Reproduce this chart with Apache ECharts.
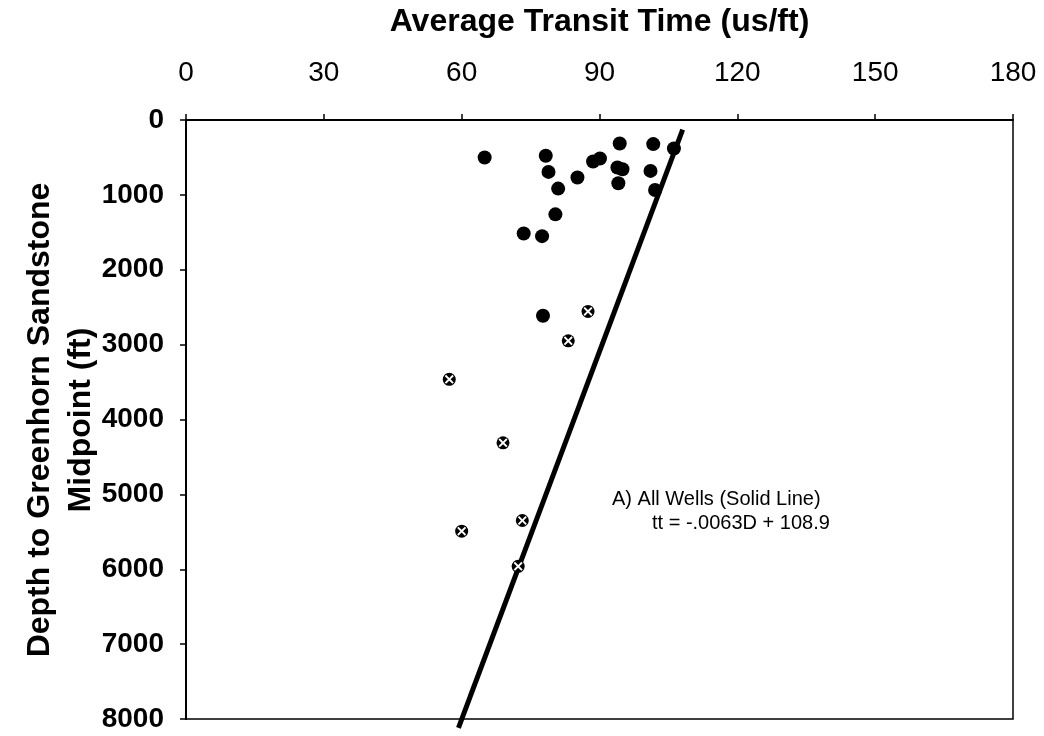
<!DOCTYPE html>
<html>
<head>
<meta charset="utf-8">
<title>Average Transit Time vs Depth</title>
<script src="https://cdn.jsdelivr.net/npm/echarts@6/dist/echarts.min.js"></script>
<style>
  html, body { margin: 0; padding: 0; background: #fff; }
  #chart { width: 1044px; height: 736px; }
</style>
</head>
<body>
<div id="chart"></div>
<script>
// transit time (us/ft), depth (ft) - solid dots
const dotTransit = [65.0, 78.3, 78.9, 81.0, 80.4, 73.5, 77.5, 85.2, 88.6, 90.1, 94.4, 93.9, 95.0, 94.1, 101.7, 101.1, 102.1, 106.2, 77.7];
const dotDepth   = [500, 478, 693, 916, 1260, 1515, 1551, 768, 554, 514, 313, 635, 657, 845, 322, 680, 934, 380, 2614];

// crossed-circle wells
const crossTransit = [87.5, 83.2, 57.3, 69.0, 73.2, 60.0, 72.3];
const crossDepth   = [2556, 2949, 3463, 4312, 5349, 5492, 5961];

// solid fit line end points
const fitTransit = [108.1, 59.3];
const fitDepth   = [130, 8120];

const xTicks = { min: 0, max: 180, step: 30 };
const yTicks = { min: 0, max: 8000, step: 1000 };

const FONT = 'Liberation Sans, Arial, sans-serif';

const pairs = (xs, ys) => xs.map((x, i) => [x, ys[i]]);

const chart = echarts.init(document.getElementById('chart'));

// small white X drawn on top of a black circle
const crossPath = 'path://M1.5,0 L5,3.5 L8.5,0 L10,1.5 L6.5,5 L10,8.5 L8.5,10 L5,6.5 L1.5,10 L0,8.5 L3.5,5 L0,1.5 Z';

// rotated y-axis title, two lines
const yTitleLine = (text, x) => ({
  type: 'text', x: x, y: 420, rotation: Math.PI / 2,
  style: {
    text: text, font: 'bold 32px ' + FONT, fill: '#000',
    align: 'center', verticalAlign: 'middle'
  }
});

const option = {
  backgroundColor: '#fff',
  animation: false,
  grid: {
    left: 186, right: 31, top: 120, bottom: 17,
    outerBoundsMode: 'none',
    containLabel: false,
    show: true, borderColor: '#000', borderWidth: 1.5, backgroundColor: 'transparent'
  },
  xAxis: {
    type: 'value',
    position: 'top',
    min: xTicks.min, max: xTicks.max, interval: xTicks.step,
    name: 'Average Transit Time (us/ft)',
    nameLocation: 'middle',
    nameGap: 82,
    nameTextStyle: { fontFamily: FONT, fontSize: 32, fontWeight: 'bold', color: '#000' },
    axisLine: { show: true, lineStyle: { color: '#000', width: 2 } },
    axisTick: { show: true, inside: false, length: 6, lineStyle: { color: '#000', width: 1.5 } },
    axisLabel: { fontFamily: FONT, fontSize: 28, color: '#000', margin: 33 },
    splitLine: { show: false }
  },
  yAxis: {
    type: 'value',
    inverse: true,
    min: yTicks.min, max: yTicks.max, interval: yTicks.step,
    axisLine: { show: true, lineStyle: { color: '#000', width: 2 } },
    axisTick: { show: true, inside: false, length: 6, lineStyle: { color: '#000', width: 1.5 } },
    axisLabel: {
      fontFamily: FONT, fontSize: 28, fontWeight: 'bold', color: '#000', margin: 22,
      formatter: (v) => String(v)
    },
    splitLine: { show: false }
  },
  series: [
    {
      name: 'All Wells fit',
      type: 'line',
      data: pairs(fitTransit, fitDepth),
      symbol: 'none',
      clip: false,
      lineStyle: { color: '#000', width: 5, opacity: 1 },
      z: 2
    },
    {
      name: 'Wells',
      type: 'scatter',
      data: pairs(dotTransit, dotDepth),
      symbol: 'circle',
      symbolSize: 14,
      itemStyle: { color: '#000', opacity: 1 },
      z: 3
    },
    {
      name: 'Crossed wells',
      type: 'scatter',
      data: pairs(crossTransit, crossDepth),
      symbol: 'circle',
      symbolSize: 13,
      itemStyle: { color: '#000', opacity: 1 },
      z: 3
    },
    {
      name: 'Crossed wells X',
      type: 'scatter',
      data: pairs(crossTransit, crossDepth),
      symbol: crossPath,
      symbolSize: 9,
      itemStyle: { color: '#fff', opacity: 1 },
      silent: true,
      z: 4
    }
  ],
  graphic: [
    yTitleLine('Depth to Greenhorn Sandstone', 40),
    yTitleLine('Midpoint (ft)', 81),
    {
      type: 'text', left: 612, top: 489,
      style: { text: 'A) All Wells (Solid Line)', font: '20px ' + FONT, fill: '#000' }
    },
    {
      type: 'text', left: 652, top: 513,
      style: { text: 'tt = -.0063D + 108.9', font: '20px ' + FONT, fill: '#000' }
    }
  ]
};

chart.setOption(option);
window.addEventListener('resize', () => chart.resize());
</script>
</body>
</html>
